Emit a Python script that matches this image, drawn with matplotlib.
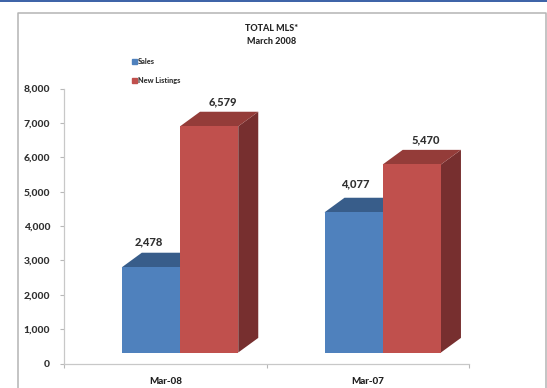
import matplotlib
matplotlib.use("Agg")
import matplotlib.pyplot as plt
from matplotlib.patches import Rectangle
from matplotlib.lines import Line2D

months = ["Mar-08", "Mar-07"]
sales = [2478, 4077]
new_listings = [6579, 5470]
yticks = [0, 1000, 2000, 3000, 4000, 5000, 6000, 7000, 8000]

W, H = 547, 388
plt.rcParams["font.family"] = ["Lato", "DejaVu Sans"]

fig = plt.figure(figsize=(W / 100, H / 100), dpi=100)
ax = fig.add_axes([64 / W, 1 - 363.5 / H, 405 / W, 275 / H])
ax.set_xlim(0, 2)
ax.set_ylim(0, 8000)

# 3d look: floor raised above the axis, depth goes up and to the right
floor = 320
bar_w = 0.2875
depth_x = 0.0988
depth_y = 425
centers = [0.573, 1.574]


def bar3d(x, value, front, top, side):
    y0, y1 = floor, floor + value
    ax.fill([x + bar_w, x + bar_w + depth_x, x + bar_w + depth_x, x + bar_w],
            [y0, y0 + depth_y, y1 + depth_y, y1], color=side, lw=0, clip_on=False, zorder=2)
    ax.fill([x, x + depth_x, x + bar_w + depth_x, x + bar_w],
            [y1, y1 + depth_y, y1 + depth_y, y1], color=top, lw=0, clip_on=False, zorder=2)
    ax.bar(x, value, bar_w, bottom=floor, align="edge", color=front, lw=0, zorder=3)


for c, s, n in zip(centers, sales, new_listings):
    bar3d(c - bar_w, s, "#4f81bd", "#385d8a", "#2f4f75")
    bar3d(c, n, "#c0504d", "#943c39", "#772f2f")

# value labels, offsets in px from the bar's front top corner
for c, s, dy, dx in zip(centers, sales, [25, 29], [-2, 1.5]):
    ax.annotate(f"{s:,}", (c - bar_w / 2, floor + s), xytext=(dx * 0.72, dy * 0.72),
                textcoords="offset points", ha="center", va="center",
                fontsize=8, fontweight="black", color="#303030")
for c, n in zip(centers, new_listings):
    ax.annotate(f"{n:,}", (c + bar_w / 2, floor + n), xytext=(14 * 0.72, 25 * 0.72),
                textcoords="offset points", ha="center", va="center",
                fontsize=8, fontweight="black", color="#303030")

ax.set_yticks(yticks)
ax.set_yticklabels([f"{v:,}" for v in yticks], fontsize=7.5, fontweight="black", color="#303030")
ax.set_xticks([0, 1, 2])
ax.set_xticks([0.5, 1.5], labels=months, minor=True, fontsize=7, fontweight="black", color="#202020")
ax.set_xticklabels([])
ax.tick_params(axis="x", which="minor", length=0, pad=10)
ax.tick_params(axis="x", which="major", length=3, color="#b8b8b8", width=0.8)
ax.tick_params(axis="y", length=3, color="#b8b8b8", width=0.8, pad=7)
for name in ["top", "right"]:
    ax.spines[name].set_visible(False)
for name in ["left", "bottom"]:
    ax.spines[name].set_color("#c8c8c8")
    ax.spines[name].set_linewidth(0.9)

handles = [
    Line2D([], [], ls="", marker="s", ms=3.6, color="#4f81bd", label="Sales"),
    Line2D([], [], ls="", marker="s", ms=3.6, color="#c0504d", label="New Listings"),
]
fig.legend(handles=handles, loc="upper left", bbox_to_anchor=(130 / W, 1 - 58 / H), frameon=False,
           prop={"size": 5.3, "weight": "black"}, labelspacing=1.6, handletextpad=0.1,
           handlelength=1, borderpad=0, borderaxespad=0, labelcolor="#303030")

fig.text(272 / W, 1 - 28.5 / H, "TOTAL MLS*", ha="center", va="center", fontsize=6.5,
         fontweight="black", color="#252525")
fig.text(272 / W, 1 - 41 / H, "March 2008", ha="center", va="center", fontsize=6.5,
         fontweight="black", color="#252525")

# page rule at the top and the chart's outer frame, running off the bottom
fig.add_artist(Rectangle((0, 1 - 1.5 / H), 1, 1.5 / H, transform=fig.transFigure,
                         color="#3f64a8", lw=0))
fig.add_artist(Line2D([17.5 / W, 17.5 / W, 545.5 / W, 545.5 / W],
                      [0, 1 - 12.5 / H, 1 - 12.5 / H, 0], color="#b4b4b4", lw=1.1))

fig.savefig("out.png", dpi=100)
